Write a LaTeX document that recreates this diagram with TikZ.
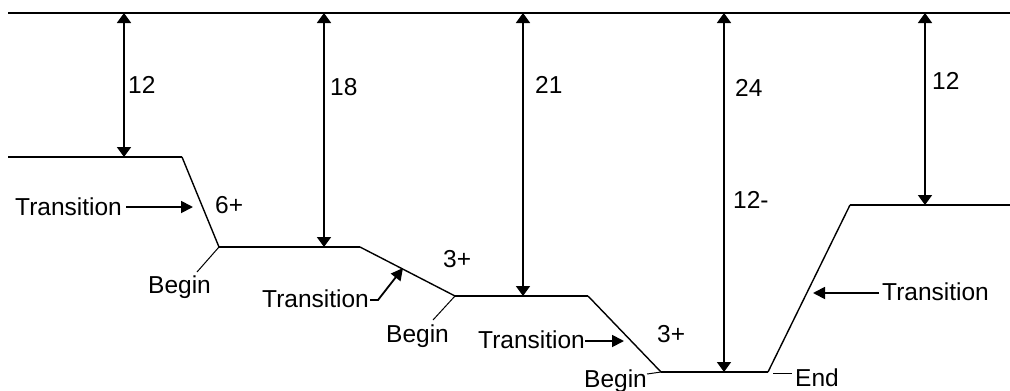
\documentclass[tikz,border=0pt]{standalone}
\usepackage{fontspec}
\setmainfont{Liberation Sans}
\usetikzlibrary{arrows.meta}
\begin{document}
\begin{tikzpicture}[x=1pt,y=-1pt,
  road/.style={line width=1.8pt},
  slope/.style={line width=1.4pt},
  dim/.style={line width=1.8pt,{Triangle[width=14pt,length=10pt]}-{Triangle[width=14pt,length=10pt]}},
  lbl/.style={inner sep=0pt,anchor=base west,font=\fontsize{24.5}{29}\selectfont},
  lead/.style={line width=1pt},
  pointer/.style={line width=1.8pt,-{Triangle[width=12pt,length=12pt]}}]
\useasboundingbox (0,0) rectangle (1010,391);
% reference line
\coordinate (T0) at (8,13);
\coordinate (T1) at (1010,13);
\draw[road] (T0) -- (T1);
% profile corners
\coordinate (A) at (8,157);
\coordinate (B) at (182,157);
\coordinate (C) at (219,247);
\coordinate (D) at (360,247);
\coordinate (E) at (455,296);
\coordinate (F) at (588,296);
\coordinate (G) at (661,372);
\coordinate (H) at (768,372);
\coordinate (I) at (850,205);
\coordinate (J) at (1010,205);
\draw[road] (A) -- (B);
\draw[slope] (B) -- (C);
\draw[road] (C) -- (D);
\draw[slope] (D) -- (E);
\draw[road] (E) -- (F);
\draw[slope] (F) -- (G);
\draw[road] (G) -- (H);
\draw[slope] (H) -- (I);
\draw[road] (I) -- (J);
% dimension arrows
\coordinate (d1t) at (124,13);  \coordinate (d1b) at (124,157);
\coordinate (d2t) at (324,13);  \coordinate (d2b) at (324,247);
\coordinate (d3t) at (523,13);  \coordinate (d3b) at (523,296);
\coordinate (d4t) at (724,13);  \coordinate (d4b) at (724,372);
\coordinate (d5t) at (925,13);  \coordinate (d5b) at (925,205);
\draw[dim] (d1t) -- (d1b);
\draw[dim] (d2t) -- (d2b);
\draw[dim] (d3t) -- (d3b);
\draw[dim] (d4t) -- (d4b);
\draw[dim] (d5t) -- (d5b);
\node[lbl] (n1) at (128,93) {12};
\node[lbl] (n2) at (330,95) {18};
\node[lbl] (n3) at (535,93) {21};
\node[lbl] (n4) at (735,96) {24};
\node[lbl] (n4b) at (733,208) {12-};
\node[lbl] (n5) at (932,89) {12};
% grade labels
\node[lbl] (g1) at (215,213) {6+};
\node[lbl] (g2) at (443,267) {3+};
\node[lbl] (g3) at (657,342) {3+};
% transition labels
\node[lbl] (t1) at (15,215) {Transition};
\node[lbl] (t2) at (262,307) {Transition};
\node[lbl] (t3) at (478,348) {Transition};
\node[lbl] (t4) at (882,300) {Transition};
\coordinate (p1a) at (126,207); \coordinate (p1b) at (193,207);
\coordinate (p2a) at (370,300); \coordinate (p2m) at (378,300); \coordinate (p2b) at (403,268);
\coordinate (p3a) at (585,341); \coordinate (p3b) at (624,341);
\coordinate (p4a) at (879,293); \coordinate (p4b) at (813,293);
\draw[pointer] (p1a) -- (p1b);
\draw[pointer] (p2a) -- (p2m) -- (p2b);
\draw[pointer] (p3a) -- (p3b);
\draw[pointer] (p4a) -- (p4b);
% begin / end labels
\node[lbl] (b1) at (148,293) {Begin};
\node[lbl] (b2) at (386,342) {Begin};
\node[lbl] (b3) at (584,387) {Begin};
\node[lbl] (e1) at (795,386) {End};
\coordinate (l1) at (197,272);
\coordinate (l2) at (433,320);
\coordinate (l3) at (647,374);
\coordinate (l4) at (792,373);
\coordinate (l4s) at (773,373);
\draw[lead] (C) -- (l1);
\draw[lead] (E) -- (l2);
\draw[lead] (l3) -- (G);
\draw[lead] (l4s) -- (l4);
\end{tikzpicture}
\end{document}
